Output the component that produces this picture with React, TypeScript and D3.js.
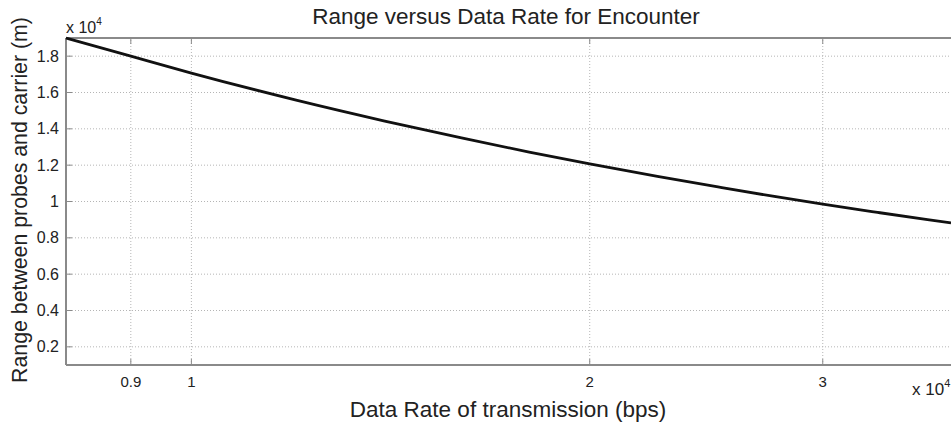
import React from "react";
import * as d3 from "d3";

// values
const rates = [8040, 9000, 10000, 12000, 14000, 16000, 18000, 20000, 22500, 25000, 27500, 30000, 33000, 36000, 37500];
const ranges = [19000, 18000, 17070, 15580, 14430, 13500, 12720, 12070, 11380, 10800, 10290, 9850, 9400, 9000, 8820];
const xTicks = [9000, 10000, 20000, 30000];
const xTickLabels = ["0.9", "1", "2", "3"];
const yTicks = [2000, 4000, 6000, 8000, 10000, 12000, 14000, 16000, 18000];

const width = 951;
const height = 426;
const margin = { top: 38, right: 0, bottom: 61, left: 66 };

export default function App() {
  const x = d3.scaleLog().domain([8040, 37500]).range([margin.left, width - margin.right]);
  const y = d3.scaleLinear().domain([1000, 19000]).range([height - margin.bottom, margin.top]);

  const data = rates.map((r, i) => ({ r, v: ranges[i] }));
  const line = d3.line<{ r: number; v: number }>()
    .x(d => x(d.r))
    .y(d => y(d.v))
    .curve(d3.curveMonotoneX);

  const x0 = margin.left;
  const x1 = width - margin.right;
  const y0 = height - margin.bottom;
  const y1 = margin.top;
  const font = "Liberation Sans, Arial, sans-serif";
  const axisColor = "#8a8a8a";

  return (
    <svg width={width} height={height} style={{ position: "absolute", left: 0, top: 0, background: "#fff" }} fontFamily={font}>
      {/* grid */}
      {yTicks.map(t => (
        <line key={"gy" + t} x1={x0} x2={x1} y1={y(t)} y2={y(t)} stroke="#b5b5b5" strokeWidth={1} strokeDasharray="1,2" />
      ))}
      {xTicks.map(t => (
        <line key={"gx" + t} x1={x(t)} x2={x(t)} y1={y0} y2={y1} stroke="#b5b5b5" strokeWidth={1} strokeDasharray="1,2" />
      ))}
      {/* frame */}
      <line x1={x0} x2={x1} y1={y0} y2={y0} stroke={axisColor} strokeWidth={2} />
      <line x1={x0} x2={x1} y1={y1} y2={y1} stroke={axisColor} strokeWidth={2} />
      <line x1={x0} x2={x0} y1={y0} y2={y1} stroke={axisColor} strokeWidth={2} />
      {/* ticks */}
      {yTicks.map(t => (
        <g key={"ty" + t}>
          <line x1={x0} x2={x0 + 6} y1={y(t)} y2={y(t)} stroke={axisColor} strokeWidth={1} />
          <text x={x0 - 7} y={y(t)} dy="0.35em" textAnchor="end" fontSize={16} fill="#222">
            {d3.format("")(t / 10000)}
          </text>
        </g>
      ))}
      {xTicks.map((t, i) => (
        <g key={"tx" + t}>
          <line x1={x(t)} x2={x(t)} y1={y0} y2={y0 - 6} stroke={axisColor} strokeWidth={1} />
          <line x1={x(t)} x2={x(t)} y1={y1} y2={y1 + 6} stroke={axisColor} strokeWidth={1} />
          <text x={x(t)} y={y0 + 22} textAnchor="middle" fontSize={15} fill="#222">
            {xTickLabels[i]}
          </text>
        </g>
      ))}
      {/* exponent labels */}
      <text x={x0} y={y1 - 5} fontSize={16} fill="#222">
        x 10<tspan dy={-8} fontSize={10}>4</tspan>
      </text>
      <text x={912} y={395} fontSize={17} fill="#222">
        x 10<tspan dy={-8} fontSize={11}>4</tspan>
      </text>
      {/* data line */}
      <path d={line(data) || ""} fill="none" stroke="#111" strokeWidth={2.8} />
      {/* title and labels */}
      <text x={506} y={24} textAnchor="middle" fontSize={22.5} fill="#222">
        Range versus Data Rate for Encounter
      </text>
      <text x={508} y={417} textAnchor="middle" fontSize={22.5} fill="#222">
        Data Rate of transmission (bps)
      </text>
      <text transform={`translate(27, 200) rotate(-90)`} textAnchor="middle" fontSize={21.3} fill="#222">
        Range between probes and carrier (m)
      </text>
    </svg>
  );
}
